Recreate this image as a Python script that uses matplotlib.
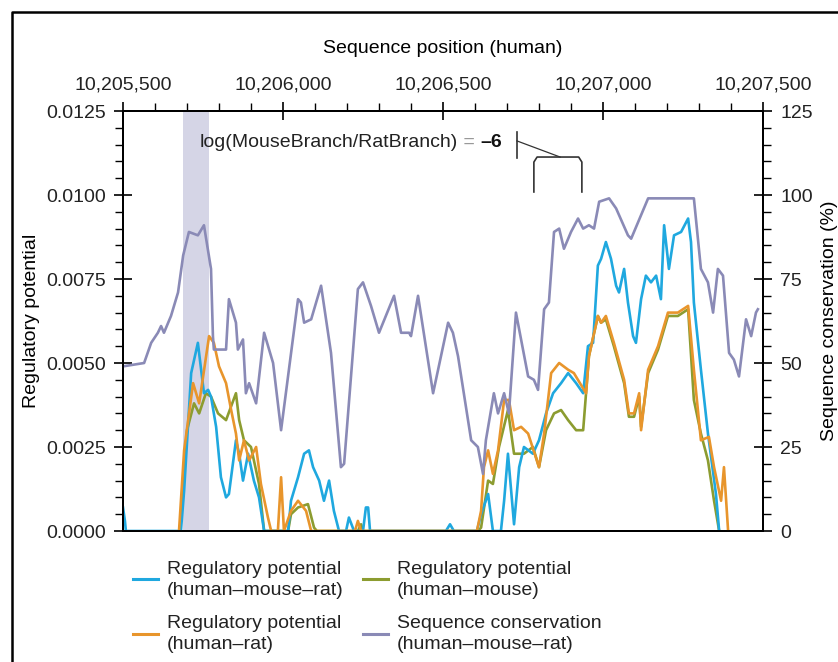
import numpy as np
import matplotlib
matplotlib.use("Agg")
import matplotlib.pyplot as plt
from matplotlib.ticker import MultipleLocator, FuncFormatter
from matplotlib.lines import Line2D

plt.rcParams['font.family'] = ['Liberation Sans', 'DejaVu Sans']
plt.rcParams['font.size'] = 14

# sequence conservation, human-mouse-rat (%)
cons_pos = [5500, 5566, 5588, 5609, 5619, 5628, 5650, 5672, 5688, 5706, 5734, 5753, 5775, 5781,
            5784, 5822, 5831, 5853, 5859, 5875, 5884, 5894, 5916, 5941, 5969, 5994, 6047, 6056,
            6066, 6088, 6119, 6150, 6181, 6191, 6234, 6250, 6275, 6300, 6347, 6369, 6394, 6400,
            6422, 6469, 6516, 6531, 6547, 6588, 6609, 6625, 6634, 6659, 6672, 6691, 6706, 6728,
            6744, 6766, 6784, 6797, 6816, 6831, 6847, 6863, 6878, 6900, 6922, 6938, 6956, 6972,
            6988, 7019, 7041, 7078, 7088, 7141, 7284, 7306, 7328, 7344, 7359, 7375, 7394, 7409,
            7425, 7447, 7463, 7478, 7484]
cons_val = [49, 50, 56, 59, 61, 59, 64, 71, 82, 89, 88, 91, 78, 58,
            54, 54, 69, 62, 54, 57, 41, 44, 38, 59, 50, 30, 69, 68,
            62, 63, 73, 53, 19, 20, 72, 74, 67, 59, 70, 59, 59, 58,
            70, 41, 62, 59, 52, 27, 25, 17, 27, 41, 35, 41, 35, 65,
            57, 46, 45, 42, 66, 68, 89, 90, 84, 89, 93, 90, 91, 90,
            98, 99, 96, 88, 87, 99, 99, 78, 74, 65, 78, 76, 53, 51,
            46, 63, 58, 65, 66]

# regulatory potential, human-mouse-rat
hmr_pos = [5500, 5506, 5509, 5681, 5691, 5713, 5734, 5753, 5766, 5775, 5791, 5806, 5822, 5831,
           5853, 5863, 5875, 5891, 5909, 5925, 5941, 6016, 6025, 6047, 6066, 6081, 6094, 6113,
           6128, 6144, 6159, 6175, 6197, 6206, 6222, 6250, 6259, 6266, 6272, 6509, 6522, 6534,
           6606, 6619, 6641, 6656, 6681, 6691, 6703, 6722, 6738, 6753, 6781, 6800, 6822, 6844,
           6869, 6891, 6916, 6938, 6953, 6969, 6984, 6994, 7009, 7025, 7041, 7050, 7066, 7078,
           7094, 7103, 7119, 7134, 7150, 7166, 7181, 7191, 7206, 7222, 7244, 7266, 7275, 7284,
           7306, 7328, 7353, 7363]
hmr_val = [0.0007, 0.0003, 0.0, 0.0, 0.0012, 0.0047, 0.0056, 0.0041, 0.0042, 0.0040, 0.0031, 0.0016, 0.0010, 0.0011,
           0.0027, 0.0023, 0.0015, 0.0023, 0.0015, 0.0010, 0.0, 0.0, 0.0009, 0.0016, 0.0023, 0.0024, 0.0019, 0.0015,
           0.0009, 0.0015, 0.0006, 0.0, 0.0, 0.0004, 0.0, 0.0, 0.0007, 0.0007, 0.0, 0.0, 0.0002, 0.0,
           0.0, 0.0005, 0.0011, 0.0, 0.0, 0.0009, 0.0023, 0.0002, 0.0019, 0.0025, 0.0023, 0.0027, 0.0035, 0.0041,
           0.0044, 0.0047, 0.0044, 0.0041, 0.0055, 0.0056, 0.0079, 0.0081, 0.0086, 0.0081, 0.0073, 0.0071, 0.0078, 0.0068,
           0.0058, 0.0056, 0.0069, 0.0076, 0.0074, 0.0076, 0.0069, 0.0091, 0.0078, 0.0088, 0.0089, 0.0093, 0.0086, 0.0068,
           0.0048, 0.0029, 0.0011, 0.0]

# regulatory potential, human-rat
hr_pos = [5675, 5691, 5719, 5738, 5769, 5784, 5800, 5822, 5838, 5853, 5863, 5878, 5894, 5916,
          5931, 5953, 5963, 5984, 5994, 6003, 6025, 6047, 6072, 6088, 6225, 6234, 6244, 6606,
          6619, 6628, 6641, 6656, 6672, 6691, 6706, 6722, 6744, 6766, 6800, 6816, 6838, 6863,
          6891, 6909, 6947, 6956, 6984, 6994, 7009, 7034, 7066, 7081, 7097, 7113, 7119, 7141,
          7172, 7203, 7234, 7266, 7284, 7306, 7331, 7347, 7369, 7378, 7391]
hr_val = [0.0, 0.0024, 0.0044, 0.0038, 0.0058, 0.0056, 0.0049, 0.0044, 0.0036, 0.0029, 0.0021, 0.0027, 0.0021, 0.0025,
          0.0014, 0.0004, 0.0, 0.0, 0.0016, 0.0, 0.0006, 0.0009, 0.0006, 0.0, 0.0, 0.0003, 0.0, 0.0,
          0.0006, 0.0019, 0.0024, 0.0017, 0.0024, 0.0039, 0.0039, 0.0030, 0.0031, 0.0029, 0.0019, 0.0029, 0.0047, 0.0050,
          0.0048, 0.0047, 0.0041, 0.0052, 0.0064, 0.0062, 0.0064, 0.0056, 0.0045, 0.0035, 0.0035, 0.0041, 0.0030, 0.0048,
          0.0055, 0.0065, 0.0065, 0.0067, 0.0048, 0.0027, 0.0028, 0.0019, 0.0009, 0.0019, 0.0]

# regulatory potential, human-mouse
hm_pos = [5678, 5700, 5722, 5738, 5759, 5775, 5797, 5822, 5853, 5863, 5878, 5900, 5925, 5941,
          6016, 6025, 6047, 6078, 6097, 6106, 6234, 6244, 6250, 6609, 6619, 6641, 6656, 6675,
          6703, 6722, 6753, 6781, 6800, 6822, 6847, 6869, 6891, 6916, 6938, 6956, 6984, 6994,
          7009, 7034, 7066, 7081, 7097, 7113, 7119, 7141, 7172, 7203, 7234, 7266, 7284, 7306,
          7328, 7347, 7363]
hm_val = [0.0, 0.0030, 0.0038, 0.0035, 0.0041, 0.0040, 0.0035, 0.0033, 0.0041, 0.0033, 0.0027, 0.0025, 0.0014, 0.0,
          0.0, 0.0005, 0.0007, 0.0008, 0.0001, 0.0, 0.0, 0.0002, 0.0, 0.0, 0.0001, 0.0015, 0.0014, 0.0025,
          0.0036, 0.0023, 0.0023, 0.0025, 0.0019, 0.0030, 0.0035, 0.0036, 0.0033, 0.0030, 0.0030, 0.0052, 0.0064, 0.0062,
          0.0063, 0.0055, 0.0044, 0.0034, 0.0034, 0.0040, 0.0031, 0.0047, 0.0054, 0.0064, 0.0064, 0.0066, 0.0039, 0.0029,
          0.0021, 0.0009, 0.0]

# positions above are offsets into the 10,200,000 region
BASE = 10200000
xticks = [10205500, 10206000, 10206500, 10207000, 10207500]
highlight = (10205688, 10205769)

c_hmr = '#1fa8df'
c_hr = '#e8952c'
c_hm = '#8c9c30'
c_cons = '#8a8ab6'


def pos(p):
    return np.array(p) + BASE


fig = plt.figure(figsize=(8.38, 6.62), dpi=100)
ax = fig.add_axes([123 / 838, 1 - 531 / 662, 640 / 838, 420 / 662])
ax2 = ax.twinx()

ax.axvspan(highlight[0], highlight[1], color='#d5d5e6', lw=0, zorder=0)

lw = 1.9
ax.plot(pos(hm_pos), hm_val, color=c_hm, lw=lw, zorder=2)
ax.plot(pos(hmr_pos), hmr_val, color=c_hmr, lw=lw, zorder=3)
ax.plot(pos(hr_pos), hr_val, color=c_hr, lw=lw, zorder=4)
ax2.plot(pos(cons_pos), cons_val, color=c_cons, lw=lw)

ax.set_xlim(xticks[0], xticks[-1])
ax.set_ylim(0, 0.0125)
ax2.set_ylim(0, 125)

# position axis sits on top
ax.xaxis.tick_top()
ax.xaxis.set_label_position('top')
ax.set_xticks(xticks)
ax.xaxis.set_minor_locator(MultipleLocator(100))
ax.xaxis.set_major_formatter(FuncFormatter(lambda v, p: '{:,}'.format(int(v))))
ax.set_xlabel('Sequence position (human)', labelpad=17)

ax.set_yticks(np.arange(0, 0.01251, 0.0025))
ax.yaxis.set_minor_locator(MultipleLocator(0.0005))
ax.yaxis.set_major_formatter(FuncFormatter(lambda v, p: '%.4f' % v))
ax.set_ylabel('Regulatory potential', labelpad=4)

ax2.set_yticks(np.arange(0, 126, 25))
ax2.yaxis.set_minor_locator(MultipleLocator(5))
ax2.set_ylabel('Sequence conservation (%)', labelpad=6)

for a in (ax, ax2):
    a.tick_params(which='major', direction='inout', length=13, width=1.2, colors='black',
                  labelcolor='#222222', pad=6)
    a.tick_params(which='minor', direction='out', length=6, width=1.0)
    for s in a.spines.values():
        s.set_linewidth(1.4)
ax2.xaxis.set_visible(False)

# branch-length annotation
t1 = ax.text(10205741, 0.01155, 'log(MouseBranch/RatBranch)', ha='left', va='center',
             color='#222222')
t2 = ax.annotate(' = ', xy=(1, 0.5), xycoords=t1, ha='left', va='center', color='#999999')
ax.annotate('\u20136', xy=(1, 0.5), xycoords=t2, ha='left', va='center', color='#111111',
            fontweight='bold')
ax.plot([10206731, 10206731], [0.011875, 0.0111], color='#333333', lw=1.2)
ax.plot([10206731, 10206866], [0.01161, 0.01113], color='#333333', lw=0.9)
ax.plot([10206784, 10206784, 10206794, 10206924, 10206934, 10206934],
        [0.01009, 0.01098, 0.01113, 0.01113, 0.01098, 0.01009], color='#333333', lw=1.2)

handles = [Line2D([], [], color=c_hmr, lw=2.2), Line2D([], [], color=c_hr, lw=2.2),
           Line2D([], [], color=c_hm, lw=2.2), Line2D([], [], color=c_cons, lw=2.2)]
labels = ['Regulatory potential\n(human\u2013mouse\u2013rat)',
          'Regulatory potential\n(human\u2013rat)',
          'Regulatory potential\n(human\u2013mouse)',
          'Sequence conservation\n(human\u2013mouse\u2013rat)']
leg = fig.legend(handles, labels, ncol=2, loc='upper left', bbox_to_anchor=(123 / 838, 1 - 551 / 662),
                 frameon=False, borderpad=0, handlelength=1.3, handletextpad=0.45,
                 columnspacing=1.0, labelspacing=0.85, labelcolor='#222222')
for t in leg.get_texts():
    t.set_linespacing(1.3)

# frame around the figure (left and top edges)
fig.add_artist(Line2D([12 / 838, 12 / 838, 1.0], [0.0, 1 - 12 / 662, 1 - 12 / 662],
                      color='black', lw=1.8, transform=fig.transFigure))

fig.savefig('out.png', dpi=100)
